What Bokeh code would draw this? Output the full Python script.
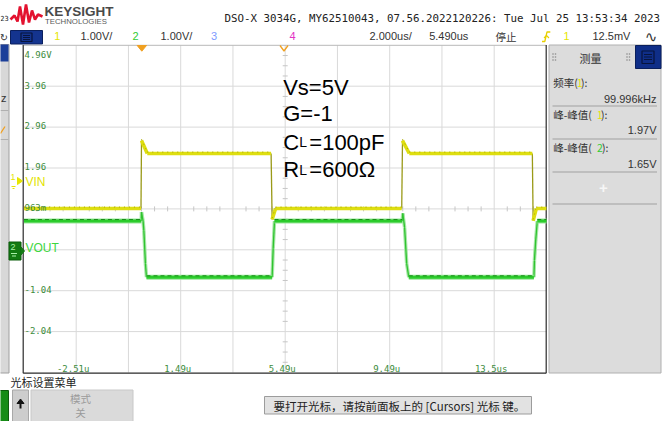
from bokeh.plotting import figure
from bokeh.models import Range1d
from bokeh.core.properties import value
from bokeh.embed import file_html
from bokeh.resources import INLINE

# ---------------- data ----------------
# 2.000 us/div (centre 5.490 us), 1.00 V/div
time_ticks = [-2.51, 1.49, 5.49, 9.49, 13.49]
time_tick_labels = ["-2.51u", "1.49u", "5.49u", "9.49u", "13.5us"]
volt_ticks = [4.96, 3.96, 2.96, 1.96, 0.963, -1.04, -2.04]
volt_tick_labels = ["4.96V", "3.96", "2.96", "1.96", "963m", "-1.04", "-2.04"]

# channel 1 : VIN (yellow)
vin_t = [-4.51, -0.03, -0.01, 0.21, 4.95, 4.99, 5.12, 9.95, 9.98, 10.24, 14.95, 14.98, 15.10, 15.49]
vin_v = [0.97, 0.97, 2.63, 2.315, 2.315, 0.70, 0.97, 0.97, 2.63, 2.315, 2.315, 0.67, 0.97, 0.97]
# channel 2 : VOUT (green)
vout_t = [-4.51, -0.02, -0.01, 0.05, 0.08, 0.14, 0.18, 4.99, 5.03, 5.08, 9.97, 9.99, 10.06, 10.14, 10.22,
          15.01, 15.03, 15.08, 15.14, 15.49]
vout_v = [0.665, 0.665, 0.88, 0.66, 0.43, -0.38, -0.71, -0.71, 0.0, 0.665, 0.665, 0.85, 0.51, -0.38, -0.71,
          -0.71, -0.3, 0.2, 0.665, 0.665]

header_text = "DSO-X 3034G, MY62510043, 07.56.2022120226: Tue Jul 25 13:53:34 2023"
meas_values = ["99.996kHz", "1.97V", "1.65V"]
note_lines = ["Vs=5V", "G=-1"]

# ---------------- geometry helpers (page pixel -> data) ----------------
GX0, GY0 = 23.45, 44.8
PXT, PXV = 26.125, 40.9
T_LEFT, V_TOP = -4.51, 4.96
T_RIGHT, V_BOT = T_LEFT + 20.0, V_TOP - 8.0
DIV_T, DIV_V = 2.0, 1.0
W, H = 672, 421


def X(px):
    return T_LEFT + (px - GX0) / PXT


def Y(py):
    return V_TOP - (py - GY0) / PXV


p = figure(width=W, height=H, output_backend="svg", toolbar_location=None,
           x_axis_location=None, y_axis_location=None, min_border=0,
           x_range=Range1d(X(0), X(W)), y_range=Range1d(Y(H), Y(0)))
p.outline_line_color = None
p.xgrid.visible = False
p.ygrid.visible = False
p.background_fill_color = "white"
p.border_fill_color = "white"


def txt(px, py, s, size, color="#222222", font="Liberation Sans", align="left",
        baseline="middle", style="normal"):
    p.text(x=[X(px)], y=[Y(py)], text=[s], text_font=value(font),
           text_font_size=value(f"{size}px"), text_color=color, text_align=align,
           text_baseline=baseline, text_font_style=style)


def box(x0, y0, x1, y1, fill, line=None, lw=1.0):
    p.quad(left=[X(x0)], right=[X(x1)], top=[Y(y0)], bottom=[Y(y1)],
           fill_color=fill, line_color=line, line_width=lw)


def pline(xs, ys, color, lw=1.0):
    p.line(x=[X(a) for a in xs], y=[Y(b) for b in ys], line_color=color, line_width=lw)


# ---------------- header ----------------
pline([10, 14, 17, 19.5, 22.5, 25.5, 28.5, 31.5, 34.5, 37.5, 42],
      [19, 15, 21, 6, 24, 4, 22, 10, 19, 14, 16], "#e3122f", 2.6)
txt(44, 10.5, "KEYSIGHT", 13.5, "#4a4a4a", style="bold")
txt(44.5, 20.5, "TECHNOLOGIES", 7.8, "#5a5a5a")
txt(224, 17.5, header_text, 10.8, "#222222", font="DejaVu Sans Mono")
txt(8.3, 17.5, "23", 7, "#222222", font="DejaVu Sans Mono", align="right")
txt(3.5, 36.5, "↻", 10, "#333333", font="DejaVu Sans", align="center")

box(10, 30, 42, 43.5, "#14348f", "#0a1f5c")
box(20.5, 32.5, 31.5, 41, None, "#07143d", 1.2)
p.segment(x0=[X(22.5)] * 3, y0=[Y(35), Y(37), Y(39)], x1=[X(29.5)] * 3, y1=[Y(35), Y(37), Y(39)],
          line_color="#07143d", line_width=1)

txt(56.7, 35.5, "1", 11, "#e6e600", align="center")
txt(80, 35.5, "1.00V/", 11, "#333333")
txt(135, 35.5, "2", 11, "#33cc33", align="center")
txt(160, 35.5, "1.00V/", 11, "#333333")
txt(213.5, 35.5, "3", 11, "#7d9bff", align="center")
txt(292, 35.5, "4", 11, "#e233c4", align="center")
txt(369, 35.5, "2.000us/", 11, "#333333")
txt(428.7, 35.5, "5.490us", 11, "#333333")
txt(495, 35.5, "停止", 10.5, "#333333", font="Noto Sans CJK SC")
pline([541.5, 544.3, 546.5, 549.8], [41, 41, 31.5, 31.5], "#e8d000", 1.3)
pline([543.5, 546, 548.5], [37.5, 35, 37.5], "#e8d000", 1.1)
txt(566, 35.5, "1", 11, "#e6e600", align="center")
txt(592, 35.5, "12.5mV", 11, "#333333")
txt(650.5, 36.5, "∿", 15, "#333333", font="DejaVu Sans", align="center")

# ---------------- left strip ----------------
box(-1, 44, 8.5, 372.5, "#d8d8d8", "#a0a0a0")
box(-1, 44, 8, 61, "#1c3f99", None)
txt(6, 97, "z", 11, "#333333", align="right")
pline([0, 4.5], [133, 126], "#f0a020", 1.3)
p.segment(x0=[X(0), X(0)], y0=[Y(110), Y(139)], x1=[X(8), X(8)], y1=[Y(110), Y(139)],
          line_color="#b0b0b0", line_width=1)

# ---------------- graticule ----------------
t_grid = [T_LEFT + DIV_T * k for k in range(1, 10)]
v_grid = [V_TOP - DIV_V * k for k in range(1, 8)]
p.segment(x0=t_grid, y0=[V_BOT] * len(t_grid), x1=t_grid, y1=[V_TOP] * len(t_grid),
          line_color="#d9d9d9", line_width=1)
p.segment(x0=[T_LEFT] * len(v_grid), y0=v_grid, x1=[T_RIGHT] * len(v_grid), y1=v_grid,
          line_color="#d9d9d9", line_width=1)

t_mid = T_LEFT + 5 * DIV_T
v_mid = V_TOP - 4 * DIV_V
tk_t = [T_LEFT + DIV_T * k / 4 for k in range(1, 40) if k % 4]
tk_v = [V_TOP - DIV_V * k / 4 for k in range(1, 32) if k % 4]
hv = 2.5 / PXV
ht = 2.5 / PXT
p.segment(x0=tk_t, y0=[v_mid - hv] * len(tk_t), x1=tk_t, y1=[v_mid + hv] * len(tk_t),
          line_color="#c6c6c6", line_width=1)
p.segment(x0=[t_mid - ht] * len(tk_v), y0=tk_v, x1=[t_mid + ht] * len(tk_v), y1=tk_v,
          line_color="#c6c6c6", line_width=1)

# borders
p.segment(x0=[T_LEFT], y0=[V_TOP], x1=[T_RIGHT], y1=[V_TOP], line_color="#b8b8b8", line_width=1)
p.segment(x0=[X(22.7), X(22.7), X(545.7)], y0=[Y(44.5), Y(372.7), Y(44.5)],
          x1=[X(22.7), X(545.7), X(545.7)], y1=[Y(372.7), Y(372.7), Y(372.7)],
          line_color="#2a2a2a", line_width=1.2)


# ---------------- traces ----------------
def split(t, v, max_slope):
    flat = ([], [], [], [])
    steep = ([], [], [], [])
    for i in range(len(t) - 1):
        s = abs((v[i + 1] - v[i]) / (t[i + 1] - t[i]))
        tgt = flat if s < max_slope else steep
        tgt[0].append(t[i]); tgt[1].append(v[i]); tgt[2].append(t[i + 1]); tgt[3].append(v[i + 1])
    return flat, steep


yf, ys = split(vin_t, vin_v, 5.0)
p.segment(x0=ys[0], y0=ys[1], x1=ys[2], y1=ys[3], line_color="#9a9a18", line_width=1.3)
p.segment(x0=yf[0], y0=yf[1], x1=yf[2], y1=yf[3], line_color="#dede10", line_width=3.6)
off = 1.4 / PXV
p.segment(x0=yf[0], y0=[a + off for a in yf[1]], x1=yf[2], y1=[a + off for a in yf[3]],
          line_color="#a8a800", line_width=1, line_dash="1 4")

gf, gs = split(vout_t, vout_v, 3.0)
p.segment(x0=gs[0], y0=gs[1], x1=gs[2], y1=gs[3], line_color="#a6e6a6", line_width=3.5)
p.segment(x0=gs[0], y0=gs[1], x1=gs[2], y1=gs[3], line_color="#2fc42f", line_width=1.3)
p.segment(x0=gf[0], y0=gf[1], x1=gf[2], y1=gf[3], line_color="#99e699", line_width=5)
p.segment(x0=gf[0], y0=gf[1], x1=gf[2], y1=gf[3], line_color="#2ccc2c", line_width=3)
p.segment(x0=gf[0], y0=[a + off for a in gf[1]], x1=gf[2], y1=[a + off for a in gf[3]],
          line_color="#168a16", line_width=1, line_dash="4 3")

# ---------------- tick labels ----------------
yoffs = [9.5] + [-1.2] * (len(volt_ticks) - 1)
p.text(x=[X(24)] * len(volt_ticks), y=volt_ticks, text=volt_tick_labels, y_offset=yoffs,
       text_font=value("DejaVu Sans Mono"), text_font_size=value("9px"), text_color="#3d8c3d",
       text_align="left", text_baseline="alphabetic")
p.text(x=time_ticks, y=[V_BOT] * len(time_ticks), text=time_tick_labels, x_offset=-3, y_offset=-3.5,
       text_font=value("DejaVu Sans Mono"), text_font_size=value("9px"), text_color="#3d8c3d",
       text_align="center", text_baseline="alphabetic")

# trigger markers
p.patch(x=[X(136.7), X(146), X(141.3)], y=[Y(45), Y(45), Y(50.7)], fill_color="#f0a020",
        line_color="#f0a020")
pline([279.5, 283.5, 287.5], [45, 50.5, 45], "#f0a020", 1.3)

# channel markers
txt(12.5, 176, "1", 9, "#e6e600", align="center")
p.patch(x=[X(17), X(22), X(17)], y=[Y(177), Y(180.5), Y(184)], fill_color="#e6e600", line_color="#e6e600")
pline([11, 15], [186, 186], "#e6e600", 1)
pline([12, 14], [188, 188], "#e6e600", 1)
txt(25, 181, "VIN", 12, "#e3e300")
box(8.5, 241.5, 20.5, 259.5, "#127a12", "#0b5c0b")
p.patch(x=[X(20.5), X(24), X(20.5)], y=[Y(246.5), Y(250.5), Y(254.5)], fill_color="#127a12",
        line_color="#127a12")
txt(12.5, 246, "2", 9, "#a8f0a8", align="center")
pline([10.5, 16.5], [253, 253], "#a8f0a8", 1)
pline([11.5, 15.5], [255.5, 255.5], "#a8f0a8", 1)
txt(25, 247.5, "VOUT", 12, "#3ed63e")

# ---------------- annotation ----------------
FS = 22
txt(282.7, 86.7, note_lines[0], FS, "#000000", baseline="alphabetic")
txt(282.7, 113.3, note_lines[1], FS, "#000000", baseline="alphabetic")
txt(282.7, 141.7, "C", FS, "#000000", baseline="alphabetic")
txt(298.8, 141.7, "L", 14, "#000000", baseline="alphabetic")
txt(308.8, 141.7, "=100pF", FS, "#000000", baseline="alphabetic")
txt(282.7, 169.0, "R", FS, "#000000", baseline="alphabetic")
txt(298.8, 169.0, "L", 14, "#000000", baseline="alphabetic")
txt(308.8, 169.0, "=600Ω", FS, "#000000", baseline="alphabetic")

# ---------------- measurement panel ----------------
box(548.5, 44.5, 660.5, 372.5, "#dcdcdc", "#b0b0b0")
txt(590, 57, "测量", 11, "#333333", font="Noto Sans CJK SC", align="center")
for gx in (552.5, 555.0, 626.5, 629.0):
    p.scatter(x=[X(gx)] * 3, y=[Y(53.5), Y(56.5), Y(59.5)], size=1.6, color="#8a8a8a", line_color=None)
box(635, 45, 660.5, 68, "#0f2e88", "#0a1f5c")
box(641.5, 50.5, 653.5, 63, None, "#07143d", 1.2)
p.segment(x0=[X(643.5)] * 3, y0=[Y(54), Y(56.5), Y(59)], x1=[X(651.5)] * 3, y1=[Y(54), Y(56.5), Y(59)],
          line_color="#07143d", line_width=1)

CJK = "Noto Sans CJK SC"
txt(552.7, 82, "频率(", 10.5, "#333333", font=CJK)
txt(576.5, 82, "1", 10.5, "#e6e600", font=CJK)
txt(580.5, 82, "):", 10.5, "#333333", font=CJK)
txt(552.7, 114, "峰-峰值(", 10.5, "#333333", font=CJK)
txt(596.5, 114, "1", 10.5, "#e6e600", font=CJK)
txt(600.5, 114, "):", 10.5, "#333333", font=CJK)
txt(552.7, 147, "峰-峰值(", 10.5, "#333333", font=CJK)
txt(596.5, 147, "2", 10.5, "#33cc33", font=CJK)
txt(601.5, 147, "):", 10.5, "#333333", font=CJK)
for val, yy in zip(meas_values, (98, 129.5, 163)):
    txt(656, yy, val, 11, "#333333", align="right")
p.segment(x0=[X(552)] * 4, y0=[Y(105.5), Y(138.5), Y(171.5), Y(203.5)],
          x1=[X(656.5)] * 4, y1=[Y(105.5), Y(138.5), Y(171.5), Y(203.5)],
          line_color="#b4b4b4", line_width=1.3)
txt(603, 187, "+", 15, "#f6f6f6", align="center", style="bold")

# ---------------- bottom soft-key area ----------------
txt(10, 381, "光标设置菜单", 11, "#222222", font=CJK)
box(-1, 390, 8, 422, "#168c16", "#0b5c0b")
box(12, 389.5, 28, 422, "#cdcdcd", "#a8a8a8")
p.patch(x=[X(16.5), X(23.5), X(20)], y=[Y(403), Y(403), Y(398.5)], fill_color="#111111", line_color="#111111")
p.segment(x0=[X(20)], y0=[Y(403)], x1=[X(20)], y1=[Y(408)], line_color="#111111", line_width=2)
box(30.5, 389.5, 132.5, 422, "#dadada", "#c8c8c8")
txt(80, 398, "模式", 10.5, "#9a9a9a", font=CJK, align="center")
txt(80, 412, "关", 10.5, "#9a9a9a", font=CJK, align="center")
box(264, 396, 531, 413.5, "#e2e2e2", "#9c9c9c")
txt(273, 405, "要打开光标，请按前面板上的 [Cursors] 光标 键。", 11.5, "#222222", font=CJK)

open("out.html", "w").write(file_html(p, INLINE))
